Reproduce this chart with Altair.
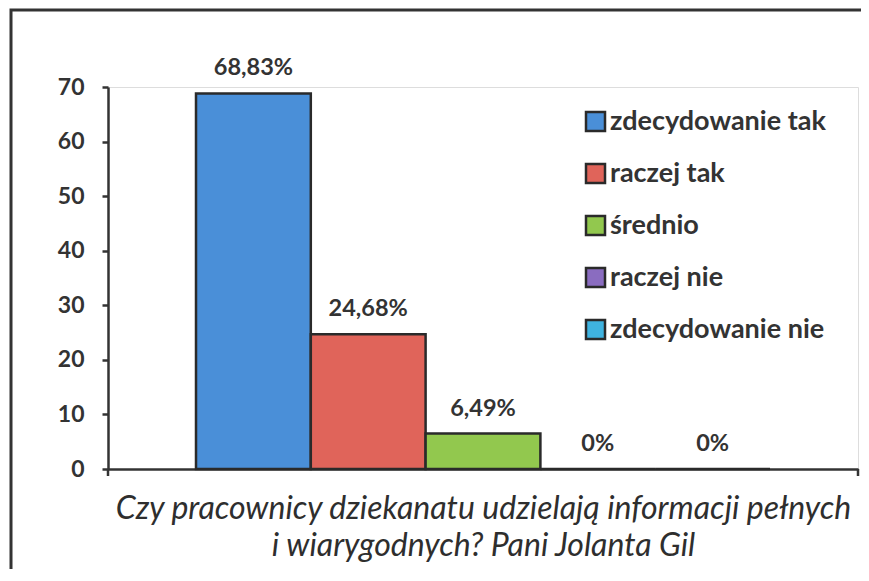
import altair as alt
import pandas as pd

series = ["zdecydowanie tak", "raczej tak", "średnio", "raczej nie", "zdecydowanie nie"]
values = [68.83, 24.68, 6.49, 0, 0]
labels = ["68,83%", "24,68%", "6,49%", "0%", "0%"]
colors = ["#4a8fd8", "#e0645a", "#92c84e", "#8a6cc0", "#3fb3e0"]
y_ticks = [0, 10, 20, 30, 40, 50, 60, 70]
title_lines = ["Czy pracownicy dziekanatu udzielają informacji pełnych",
               "i wiarygodnych? Pani Jolanta Gil"]

df = pd.DataFrame({"seria": series, "wartosc": values, "etykieta": labels})

INK = "#333333"
W, H = 750, 382

x_enc = alt.X("seria:N", sort=series,
              scale=alt.Scale(paddingInner=0, paddingOuter=0.7666),
              axis=alt.Axis(labels=False, ticks=False, title=title_lines,
                            domainColor=INK, domainWidth=2.5,
                            titleFont="Lato", titleFontStyle="italic",
                            titleFontWeight="normal", titleFontSize=32,
                            titleColor="#2e2e2e", titleLineHeight=37,
                            titlePadding=24))
y_enc = alt.Y("wartosc:Q",
              scale=alt.Scale(domain=[0, 70], nice=False, zero=True),
              axis=alt.Axis(values=y_ticks, title=None, grid=False,
                            domainColor=INK, domainWidth=2.5,
                            tickColor=INK, tickWidth=2.5, tickSize=6,
                            labelFont="Lato", labelFontWeight="bold",
                            labelFontSize=23, labelColor=INK, labelPadding=18))

base = alt.Chart(df)

bars = base.mark_bar(stroke="#2a2a2a", strokeWidth=2.5, opacity=1).encode(
    x=x_enc,
    y=y_enc,
    color=alt.Color("seria:N", sort=series,
                    scale=alt.Scale(domain=series, range=colors),
                    legend=alt.Legend(title=None, orient="none",
                                      legendX=474, legendY=21,
                                      symbolType="square", symbolSize=361,
                                      symbolStrokeColor="#2a2a2a",
                                      symbolStrokeWidth=2.5, symbolOpacity=1,
                                      labelFont="Lato", labelFontWeight="bold",
                                      labelFontSize=27, labelColor=INK,
                                      labelLimit=400,
                                      labelOffset=1, rowPadding=23)),
)

text = base.mark_text(dy=-18, baseline="alphabetic", font="Lato",
                      fontWeight="bold", fontSize=23.5, color=INK).encode(
    x=alt.X("seria:N", sort=series),
    y=alt.Y("wartosc:Q"),
    text="etykieta:N",
)

frame_data = alt.Data(values=[{"k": 1}])
frame = alt.Chart(frame_data).mark_rect(fill="transparent", stroke=INK,
                                        strokeWidth=3).encode(
    x=alt.value(-97), x2=alt.value(775), y=alt.value(-77), y2=alt.value(520))

tick_l = alt.Chart(frame_data).mark_rule(color=INK, strokeWidth=2.5).encode(
    x=alt.value(0), y=alt.value(H), y2=alt.value(H + 7))
tick_r = alt.Chart(frame_data).mark_rule(color=INK, strokeWidth=2.5).encode(
    x=alt.value(W), y=alt.value(H), y2=alt.value(H + 7))

chart = alt.layer(frame, bars, text, tick_l, tick_r).properties(
    width=W, height=H,
    autosize=alt.AutoSizeParams(type="none"),
    padding={"left": 100, "top": 79, "right": 3, "bottom": 100},
).configure_view(stroke=None).configure(background="white")

chart.save("out.html", embed_options={"renderer": "svg", "actions": False})
